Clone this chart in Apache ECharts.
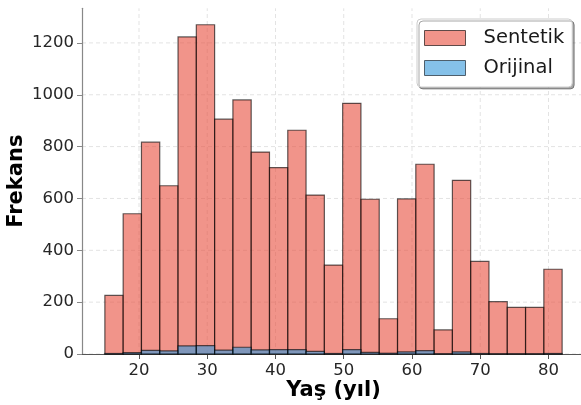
<!DOCTYPE html>
<html><head><meta charset="utf-8">
<script src="https://cdn.jsdelivr.net/npm/echarts@6/dist/echarts.min.js"></script>
<style>html,body{margin:0;padding:0;background:#fff}#c{width:581px;height:405px}</style>
</head><body><div id="c"></div><script>
// Histogram bin edges (years)
const binEdges = [15, 17.68, 20.36, 23.04, 25.72, 28.40, 31.08, 33.76, 36.44, 39.12, 41.80, 44.48, 47.16, 49.84, 52.52, 55.20, 57.88, 60.56, 63.24, 65.92, 68.60, 71.28, 73.96, 76.64, 79.32, 82.00];
// Frequencies per bin
const sentetik = [226, 541, 817, 649, 1223, 1270, 906, 980, 779, 719, 863, 613, 343, 967, 597, 136, 598, 732, 93, 670, 357, 202, 180, 180, 327];
const orijinal = [2, 5, 14, 12, 31, 32, 15, 26, 16, 17, 17, 10, 2, 17, 6, 3, 8, 13, 1, 8, 2, 1, 1, 1, 2];
const xTicks = [20, 30, 40, 50, 60, 70, 80];
const yTicks = [0, 200, 400, 600, 800, 1000, 1200];

const FONT = 'DejaVu Sans';
function toData(counts){ return counts.map((c,i)=>[binEdges[i], binEdges[i+1], c]); }
function render(fill){
  return function(params, api){
    const p0 = api.coord([api.value(0), api.value(2)]);
    const p1 = api.coord([api.value(1), 0]);
    return {type:'rect', shape:{x:p0[0], y:p0[1], width:p1[0]-p0[0], height:p1[1]-p0[1]},
      style:{fill:fill, stroke:'rgba(0,0,0,0.62)', lineWidth:1.2}};
  };
}
const redFill = 'rgba(231,76,60,0.6)';
const blueFill = 'rgba(52,152,219,0.6)';
const chart = echarts.init(document.getElementById('c'), null, {renderer:'canvas'});
chart.setOption({
  animation:false,
  backgroundColor:'#fff',
  grid:{left:82, right:-4, top:8.3, bottom:51, containLabel:false, outerBoundsMode:'none'},
  xAxis:{type:'value', min:11.65, max:85.35,
    name:'Yaş (yıl)', nameLocation:'middle', nameGap:26, nameMoveOverlap:false,
    nameTextStyle:{fontFamily:FONT, fontWeight:'bold', fontSize:21, color:'#000'},
    axisLine:{lineStyle:{color:'#555', width:1.2}},
    axisTick:{show:true, length:5, customValues:xTicks, lineStyle:{color:'#555'}},
    axisLabel:{customValues:xTicks, formatter:v=>String(v), fontFamily:FONT, fontSize:16.5, color:'#262626', margin:8},
    splitLine:{show:false}},
  yAxis:{type:'value', min:0, max:1333.5,
    name:'Frekans', nameLocation:'middle', nameGap:55, nameRotate:90, nameMoveOverlap:false,
    nameTextStyle:{fontFamily:FONT, fontWeight:'bold', fontSize:21, color:'#000'},
    axisLine:{show:true, lineStyle:{color:'#888', width:1.2}},
    axisTick:{show:true, length:5, customValues:yTicks, lineStyle:{color:'#888'}},
    axisLabel:{customValues:yTicks, formatter:v=>String(v), fontFamily:FONT, fontSize:16.5, color:'#262626', margin:8},
    splitLine:{show:false}},
  legend:{orient:'vertical', left:417, top:19, padding:[9,8,9,7],
    itemWidth:41, itemHeight:15, itemGap:10,
    backgroundColor:'#fff', borderColor:'#cccccc', borderWidth:1, borderRadius:4,
    shadowColor:'rgba(0,0,0,0.35)', shadowOffsetX:2, shadowOffsetY:2, shadowBlur:0,
    textStyle:{fontFamily:FONT, fontSize:19.5, color:'#1a1a1a', lineHeight:20, padding:[0,0,0,13]},
    data:[
      {name:'Sentetik', icon:'rect', itemStyle:{color:'#F1948A', borderColor:'#5f4a48', borderWidth:1}},
      {name:'Orijinal', icon:'rect', itemStyle:{color:'#85C1E9', borderColor:'#4e5f6c', borderWidth:1}}
    ]},
  series:[
    {name:'Sentetik', type:'custom', renderItem:render(redFill), data:toData(sentetik), encode:{x:[0,1], y:2}, itemStyle:{color:'#F1948A'}, z:2},
    {name:'Orijinal', type:'custom', renderItem:render(blueFill), data:toData(orijinal), encode:{x:[0,1], y:2}, itemStyle:{color:'#85C1E9'}, z:3}
  ],
  graphic:[]
});
// dashed grid lines through the axis scales
const gridEls = [];
xTicks.forEach(v=>{
  const a = chart.convertToPixel({gridIndex:0}, [v, 0]);
  const b = chart.convertToPixel({gridIndex:0}, [v, 1333.5]);
  gridEls.push({type:'line', z:0, silent:true, shape:{x1:a[0], y1:a[1], x2:b[0], y2:b[1]}, style:{stroke:'#e3e3e3', lineWidth:1, lineDash:[4,3]}});
});
yTicks.forEach(v=>{
  const a = chart.convertToPixel({gridIndex:0}, [11.65, v]);
  const b = chart.convertToPixel({gridIndex:0}, [85.35, v]);
  gridEls.push({type:'line', z:0, silent:true, shape:{x1:a[0], y1:a[1], x2:b[0], y2:b[1]}, style:{stroke:'#e3e3e3', lineWidth:1, lineDash:[4,3]}});
});
chart.setOption({graphic:gridEls});
</script></body></html>
